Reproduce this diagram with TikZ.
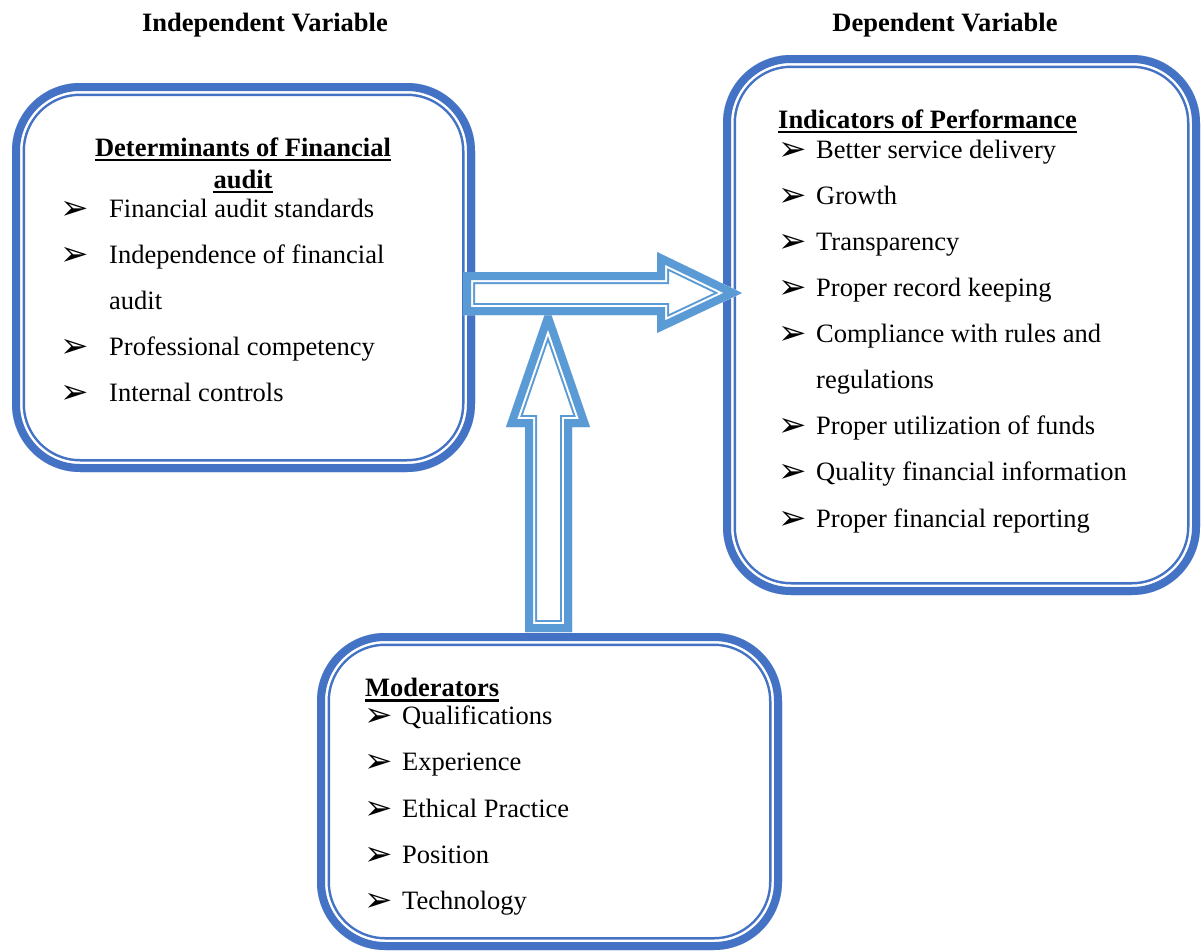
\documentclass[tikz,border=0pt]{standalone}
\usepackage{fontspec}
\setmainfont{Liberation Serif}
\newfontfamily\dejavu{DejaVu Sans}

\definecolor{boxblue}{HTML}{4472C4}
\definecolor{arrowblue}{HTML}{5B9BD5}

\tikzset{
	txt/.style={anchor=base west, inner sep=0pt, font=\fontsize{26.5}{32}\selectfont},
	head/.style={txt, font=\fontsize{26.5}{32}\selectfont\bfseries},
	uline/.style={line width=2.8pt},
}

% bullet with fixed width
\newcommand{\bul}[1][36pt]{\makebox[#1][l]{\hspace*{-2pt}\raisebox{-2.5pt}{\dejavu\fontsize{34}{34}\selectfont ➢}}}
% thick-thin outline: path, widths/colours
\newcommand{\triline}[2]{%
	\begin{scope}
		\clip #1;
		\fill[white] #1;
		\foreach \w/\c in {#2}
			\draw[line width=\w pt, \c, line join=miter] #1;
	\end{scope}}

\begin{document}
\begin{tikzpicture}[x=1pt, y=-1pt]
	\useasboundingbox (0,0) rectangle (1203,951);

	%titles
	\node[head, anchor=base] (ivar) at (265,31) {Independent Variable};
	\node[head, anchor=base] (dvar) at (945,31) {Dependent Variable};

	%boxes
	\triline{[rounded corners=68] (12,83) rectangle (475,472)}{26/boxblue,21/white,16/boxblue}
	\triline{[rounded corners=68] (723,55) rectangle (1200,595)}{26/boxblue,21/white,16/boxblue}

	%up arrow
	\triline{(525,632) -- (525,427) -- (506,427) -- (548,305) -- (590,427) -- (572,427) -- (572,632) -- cycle}{24/arrowblue,20/white,16/arrowblue}

	\triline{[rounded corners=68] (317,633) rectangle (782,950)}{26/boxblue,21/white,16/boxblue}

	%right arrow
	\triline{(463,272) -- (657,272) -- (657,252) -- (742,293) -- (657,333) -- (657,315) -- (463,315) -- cycle}{24/arrowblue,20/white,16/arrowblue}

	%left box
	\node[head, anchor=base] (dethd) at (243,156) {Determinants of Financial};
	\node[head, anchor=base] (dethdb) at (243,188) {audit};
	\draw[uline] ([yshift=-4pt]dethd.base west) -- ([yshift=-4pt]dethd.base east);
	\draw[uline] ([yshift=-4pt]dethdb.base west) -- ([yshift=-4pt]dethdb.base east);
	\node[txt] (det1) at (62,217) {\bul[47pt]Financial audit standards};
	\node[txt] (det2) at (62,263) {\bul[47pt]Independence of financial};
	\node[txt] (det2b) at (109,309) {audit};
	\node[txt] (det3) at (62,355) {\bul[47pt]Professional competency};
	\node[txt] (det4) at (62,401) {\bul[47pt]Internal controls};

	%right box
	\node[head] (perhd) at (778,128) {Indicators of Performance};
	\draw[uline] ([yshift=-4pt]perhd.base west) -- ([yshift=-4pt]perhd.base east);
	\node[txt] (per1) at (780,158) {\bul Better service delivery};
	\node[txt] (per2) at (780,204) {\bul Growth};
	\node[txt] (per3) at (780,250) {\bul Transparency};
	\node[txt] (per4) at (780,296) {\bul Proper record keeping};
	\node[txt] (per5) at (780,342) {\bul Compliance with rules and};
	\node[txt] (per5b) at (816,388) {regulations};
	\node[txt] (per6) at (780,434) {\bul Proper utilization of funds};
	\node[txt] (per7) at (780,480) {\bul Quality financial information};
	\node[txt] (per8) at (780,527) {\bul Proper financial reporting};

	%bottom box
	\node[head] (modhd) at (365,696) {Moderators};
	\draw[uline] ([yshift=-4.5pt]modhd.base west) -- ([yshift=-4.5pt]modhd.base east);
	\node[txt] (mod1) at (366,724) {\bul Qualifications};
	\node[txt] (mod2) at (366,770) {\bul Experience};
	\node[txt] (mod3) at (366,817) {\bul Ethical Practice};
	\node[txt] (mod4) at (366,863) {\bul Position};
	\node[txt] (mod5) at (366,909) {\bul Technology};
\end{tikzpicture}
\end{document}
